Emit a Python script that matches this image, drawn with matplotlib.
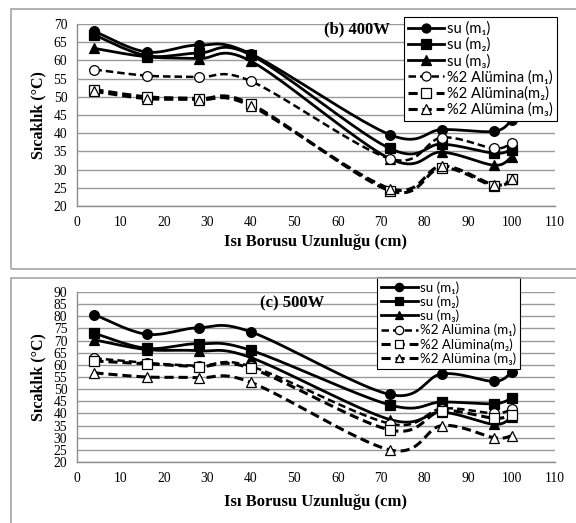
import numpy as np
import matplotlib
matplotlib.use("Agg")
import matplotlib.pyplot as plt
from matplotlib.patches import Rectangle

# ---------------- data ----------------
x_cm = [4, 16, 28, 40, 72, 84, 96, 100]

labels = ["su (m\u2081)", "su (m\u2082)", "su (m\u2083)",
          "%2 Al\u00fcmina (m\u2081)", "%2 Al\u00fcmina(m\u2082)", "%2 Al\u00fcmina (m\u2083)"]

# (b) 400W
b_su_m1 = [68.0, 62.3, 64.2, 61.8, 39.6, 41.0, 40.5, 43.5]
b_su_m2 = [67.0, 61.3, 62.0, 61.5, 35.8, 37.0, 34.5, 35.5]
b_su_m3 = [63.3, 61.0, 60.5, 59.8, 33.0, 34.8, 31.2, 33.5]
b_al_m1 = [57.5, 55.8, 55.4, 54.3, 33.0, 38.8, 35.8, 37.4]
b_al_m2 = [52.0, 50.0, 49.5, 48.0, 24.2, 30.5, 25.5, 27.3]
b_al_m3 = [51.5, 49.5, 49.2, 47.5, 24.8, 31.0, 25.8, 27.5]

# (c) 500W
c_su_m1 = [80.7, 72.6, 75.3, 73.6, 47.8, 56.3, 53.2, 57.0]
c_su_m2 = [73.0, 66.8, 68.7, 66.0, 43.5, 44.7, 44.0, 46.3]
c_su_m3 = [70.3, 66.3, 65.8, 63.0, 37.5, 40.5, 35.5, 38.5]
c_al_m1 = [62.7, 60.8, 59.6, 59.4, 35.8, 42.0, 40.0, 41.8]
c_al_m2 = [61.6, 60.4, 59.3, 58.6, 33.2, 41.0, 38.0, 39.5]
c_al_m3 = [56.7, 55.0, 54.7, 52.8, 25.0, 35.0, 30.0, 30.8]

panel_titles = ["(b) 400W", "(c) 500W"]
x_ticks = list(range(0, 111, 10))
b_y_ticks = list(range(20, 71, 5))
c_y_ticks = list(range(20, 91, 5))
xlabel = "Is\u0131 Borusu Uzunlu\u011fu (cm)"
ylabel = "S\u0131cakl\u0131k (\u00b0C)"

# ---------------- helpers ----------------
def smooth(xs, ys, n=24):
    """Excel-like smoothed line (Catmull-Rom Bezier) through the data points."""
    P = np.column_stack([xs, ys]).astype(float)
    out = []
    m = len(P)
    for i in range(m - 1):
        p0 = P[max(i - 1, 0)]
        p1 = P[i]
        p2 = P[i + 1]
        p3 = P[min(i + 2, m - 1)]
        c1 = p1 + (p2 - p0) / 6.0
        c2 = p2 - (p3 - p1) / 6.0
        t = np.linspace(0, 1, n)[:, None]
        seg = ((1 - t) ** 3) * p1 + 3 * ((1 - t) ** 2) * t * c1 + 3 * (1 - t) * t ** 2 * c2 + t ** 3 * p2
        if i > 0:
            seg = seg[1:]
        out.append(seg)
    out = np.vstack(out)
    return out[:, 0], out[:, 1]

W, H = 576, 523
fig = plt.figure(figsize=(W / 100, H / 100), dpi=100)

serif = "Liberation Serif"
legend_font = ["Lato", "DejaVu Sans"]

# panel frames
fig.patches.append(Rectangle((11 / W, 1 - 269 / H), (W + 20) / W, 260 / H,
                             transform=fig.transFigure, fill=False,
                             edgecolor="#a6a6a6", linewidth=1.2, zorder=0))
fig.patches.append(Rectangle((11 / W, -0.05), (W + 20) / W, 1 - 278 / H + 0.05,
                             transform=fig.transFigure, fill=False,
                             edgecolor="#a6a6a6", linewidth=1.2, zorder=0))

styles = [
    dict(ls="-", marker="o", mfc="black", lw=2.0),
    dict(ls="-", marker="s", mfc="black", lw=2.0),
    dict(ls="-", marker="^", mfc="black", lw=2.0),
    dict(ls=(0, (3, 1.6)), marker="o", mfc="white", lw=1.8),
    dict(ls=(0, (3, 1.6)), marker="s", mfc="white", lw=2.2),
    dict(ls=(0, (3, 1.6)), marker="^", mfc="white", lw=2.2),
]

panels = [
    dict(series=[b_su_m1, b_su_m2, b_su_m3, b_al_m1, b_al_m2, b_al_m3],
         top=24, bottom=206, yticks=b_y_ticks, title=panel_titles[0],
         title_xy=(357, 29), leg=(404, 17), xlab_y=242,
         leg_fs=10.6, leg_hl=2.45, leg_ms=6.5),
    dict(series=[c_su_m1, c_su_m2, c_su_m3, c_al_m1, c_al_m2, c_al_m3],
         top=292, bottom=462, yticks=c_y_ticks, title=panel_titles[1],
         title_xy=(292, 303), leg=(377, 277), xlab_y=502,
         leg_fs=9.6, leg_hl=2.75, leg_ms=6.0),
]

left_px, right_px = 77, 555
for p in panels:
    ax = fig.add_axes([left_px / W, 1 - p["bottom"] / H,
                       (right_px - left_px) / W, (p["bottom"] - p["top"]) / H])
    handles = []
    for vals, st, lab in zip(p["series"], styles, labels):
        sx, sy = smooth(x_cm, vals)
        ax.plot(sx, sy, color="black", ls=st["ls"], lw=st["lw"], zorder=3)
        ax.plot(x_cm, vals, ls="none", marker=st["marker"], ms=7,
                mfc=st["mfc"], mec="black", mew=0.9, zorder=4)
        h, = ax.plot([], [], color="black", ls=st["ls"], lw=st["lw"],
                     marker=st["marker"], ms=p["leg_ms"], mfc=st["mfc"], mec="black", mew=0.9)
        handles.append(h)
    ax.set_xlim(0, 110)
    ax.set_ylim(p["yticks"][0], p["yticks"][-1])
    ax.set_xticks(x_ticks)
    ax.set_yticks(p["yticks"])
    ax.yaxis.grid(True, color="#9a9a9a", lw=1.0)
    ax.set_axisbelow(True)
    for s in ["top", "right"]:
        ax.spines[s].set_visible(False)
    for s in ["left", "bottom"]:
        ax.spines[s].set_color("#8c8c8c")
        ax.spines[s].set_linewidth(1.0)
    ax.tick_params(length=0, pad=7, labelsize=9.8)
    for t in ax.get_xticklabels() + ax.get_yticklabels():
        t.set_fontfamily(serif)
    fig.text(p["title_xy"][0] / W, 1 - p["title_xy"][1] / H, p["title"],
             fontfamily=serif, fontweight="bold", fontsize=12,
             ha="center", va="center")
    fig.text(38 / W, 1 - (p["top"] + p["bottom"]) / 2 / H, ylabel,
             fontfamily=serif, fontweight="bold", fontsize=11.5,
             rotation=90, ha="center", va="center")
    fig.text((left_px + right_px) / 2 / W, 1 - p["xlab_y"] / H, xlabel,
             fontfamily=serif, fontweight="bold", fontsize=12,
             ha="center", va="center")
    leg = ax.legend(handles, labels, loc="upper left",
                    bbox_to_anchor=(p["leg"][0] / W, 1 - p["leg"][1] / H),
                    bbox_transform=fig.transFigure,
                    prop=dict(family=legend_font, size=p["leg_fs"]),
                    frameon=True, fancybox=False, edgecolor="black", framealpha=1,
                    handlelength=p["leg_hl"], handletextpad=0.15, labelspacing=0.13,
                    borderaxespad=0, borderpad=0.3)
    leg.get_frame().set_linewidth(0.8)
    leg.set_zorder(10)

fig.savefig("out.png", dpi=100)
